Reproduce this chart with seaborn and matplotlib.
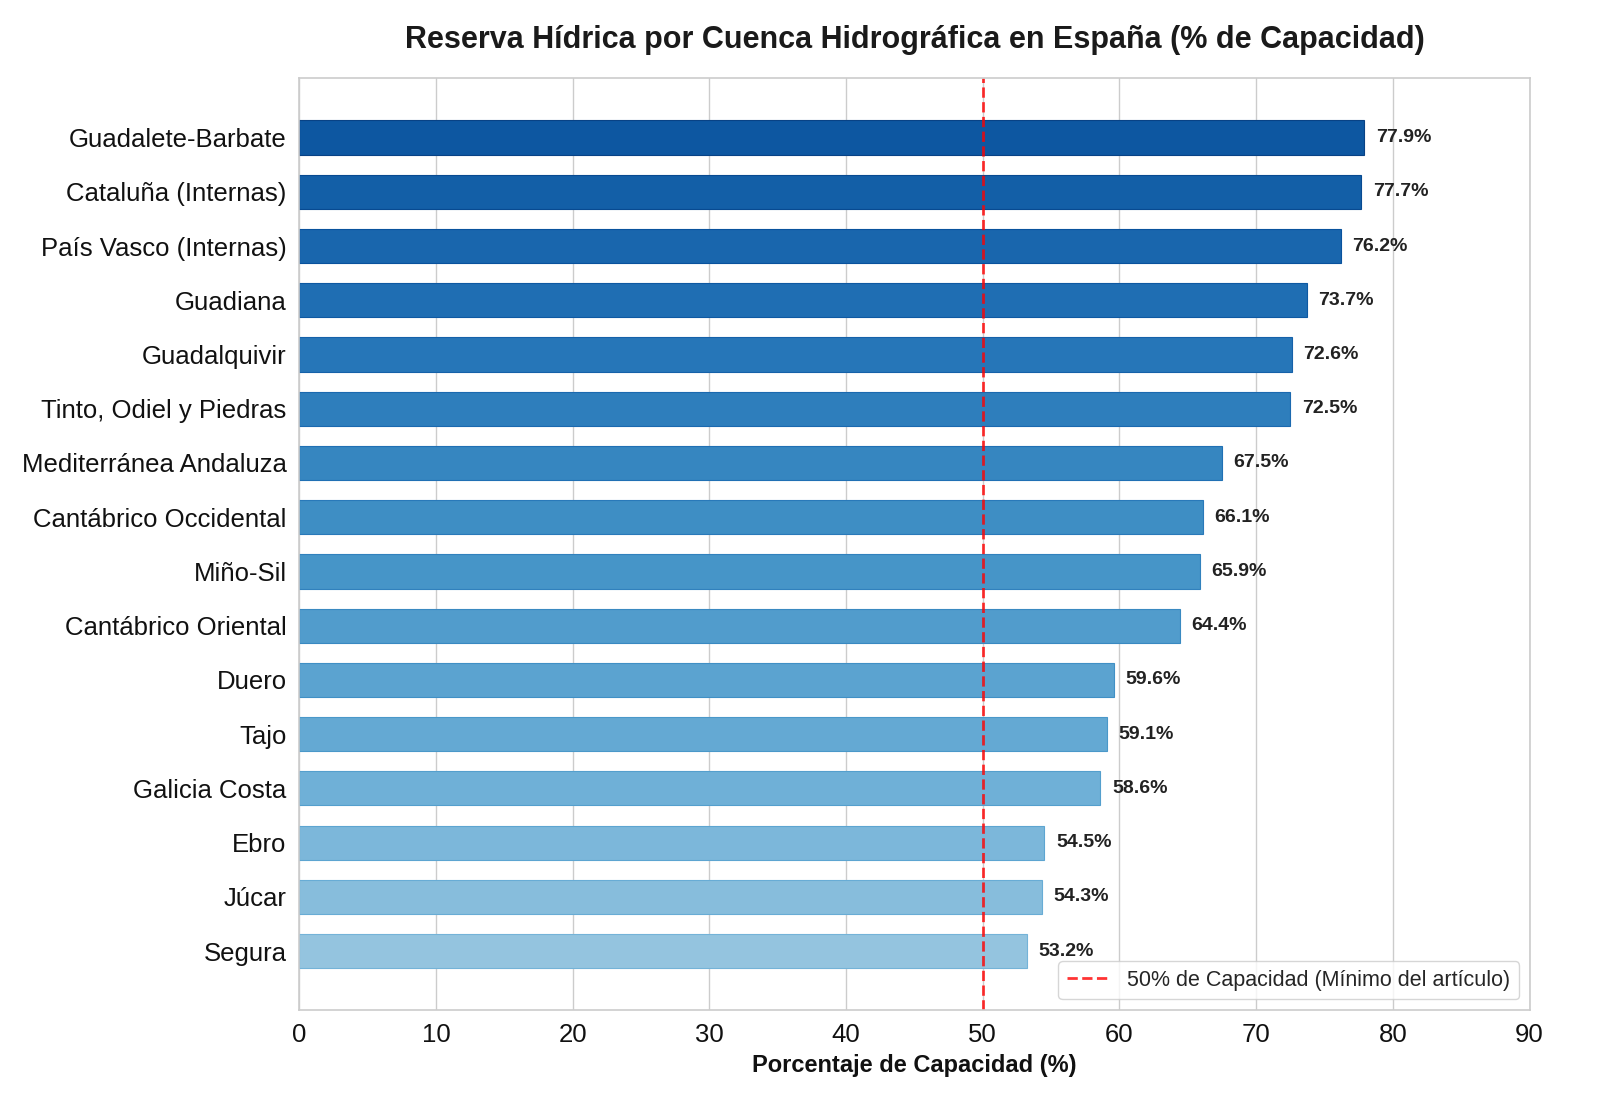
import numpy as np
import pandas as pd
import matplotlib
matplotlib.use("Agg")
import matplotlib.pyplot as plt
import seaborn as sns

cuencas = ["Guadalete-Barbate", "Cataluña (Internas)", "País Vasco (Internas)", "Guadiana",
           "Guadalquivir", "Tinto, Odiel y Piedras", "Mediterránea Andaluza",
           "Cantábrico Occidental", "Miño-Sil", "Cantábrico Oriental", "Duero", "Tajo",
           "Galicia Costa", "Ebro", "Júcar", "Segura"]
porcentajes = [77.9, 77.7, 76.2, 73.7, 72.6, 72.5, 67.5, 66.1, 65.9, 64.4,
               59.6, 59.1, 58.6, 54.5, 54.3, 53.2]
umbral = 50
xticks = list(range(0, 91, 10))

sns.set_theme(style="whitegrid")
plt.rcParams['font.family'] = ['Liberation Sans', 'DejaVu Sans']

df = pd.DataFrame({"Cuenca": cuencas, "Porcentaje": porcentajes})
levels = np.linspace(0.85, 0.40, len(cuencas))
colors = [plt.cm.Blues(v) for v in levels]
edges = [plt.cm.Blues(min(v + 0.08, 1.0)) for v in levels]

fig = plt.figure(figsize=(16, 11.2), dpi=100)
ax = fig.add_axes([0.187, 0.098, 0.769, 0.832])

sns.barplot(data=df, x="Porcentaje", y="Cuenca", hue="Cuenca", palette=colors,
            saturation=1, legend=False, width=0.63, ax=ax, orient="h")
for patch, ec in zip(ax.patches, edges):
    patch.set_edgecolor(ec)
    patch.set_linewidth(0.8)

ax.axvline(umbral, color="red", linestyle="--", linewidth=2, alpha=0.8,
           label="50% de Capacidad (Mínimo del artículo)")

for i, v in enumerate(porcentajes):
    ax.text(v + 0.85, i, f"{v}%", va="center", ha="left", fontsize=14,
            fontweight="bold", color="#222222")

ax.set_xlim(0, 90)
ax.set_xticks(xticks)
ax.set_ylim(len(cuencas) - 1 + 1.09, -1.09)
ax.set_xlabel("Porcentaje de Capacidad (%)", fontsize=17, fontweight="bold", labelpad=5,
              color="#111111")
ax.set_ylabel("")
ax.set_title("Reserva Hídrica por Cuenca Hidrográfica en España (% de Capacidad)",
             fontsize=22, fontweight="bold", pad=22, color="#1a1a1a")
ax.tick_params(axis="x", labelsize=18.5, colors="#111111", pad=3)
ax.tick_params(axis="y", labelsize=18.5, colors="#111111", pad=3)
for s in ax.spines.values():
    s.set_visible(True)
    s.set_color("#cccccc")
    s.set_linewidth(1.2)
ax.legend(loc="lower right", fontsize=15.5, frameon=True)

fig.savefig("out.png", dpi=100)
